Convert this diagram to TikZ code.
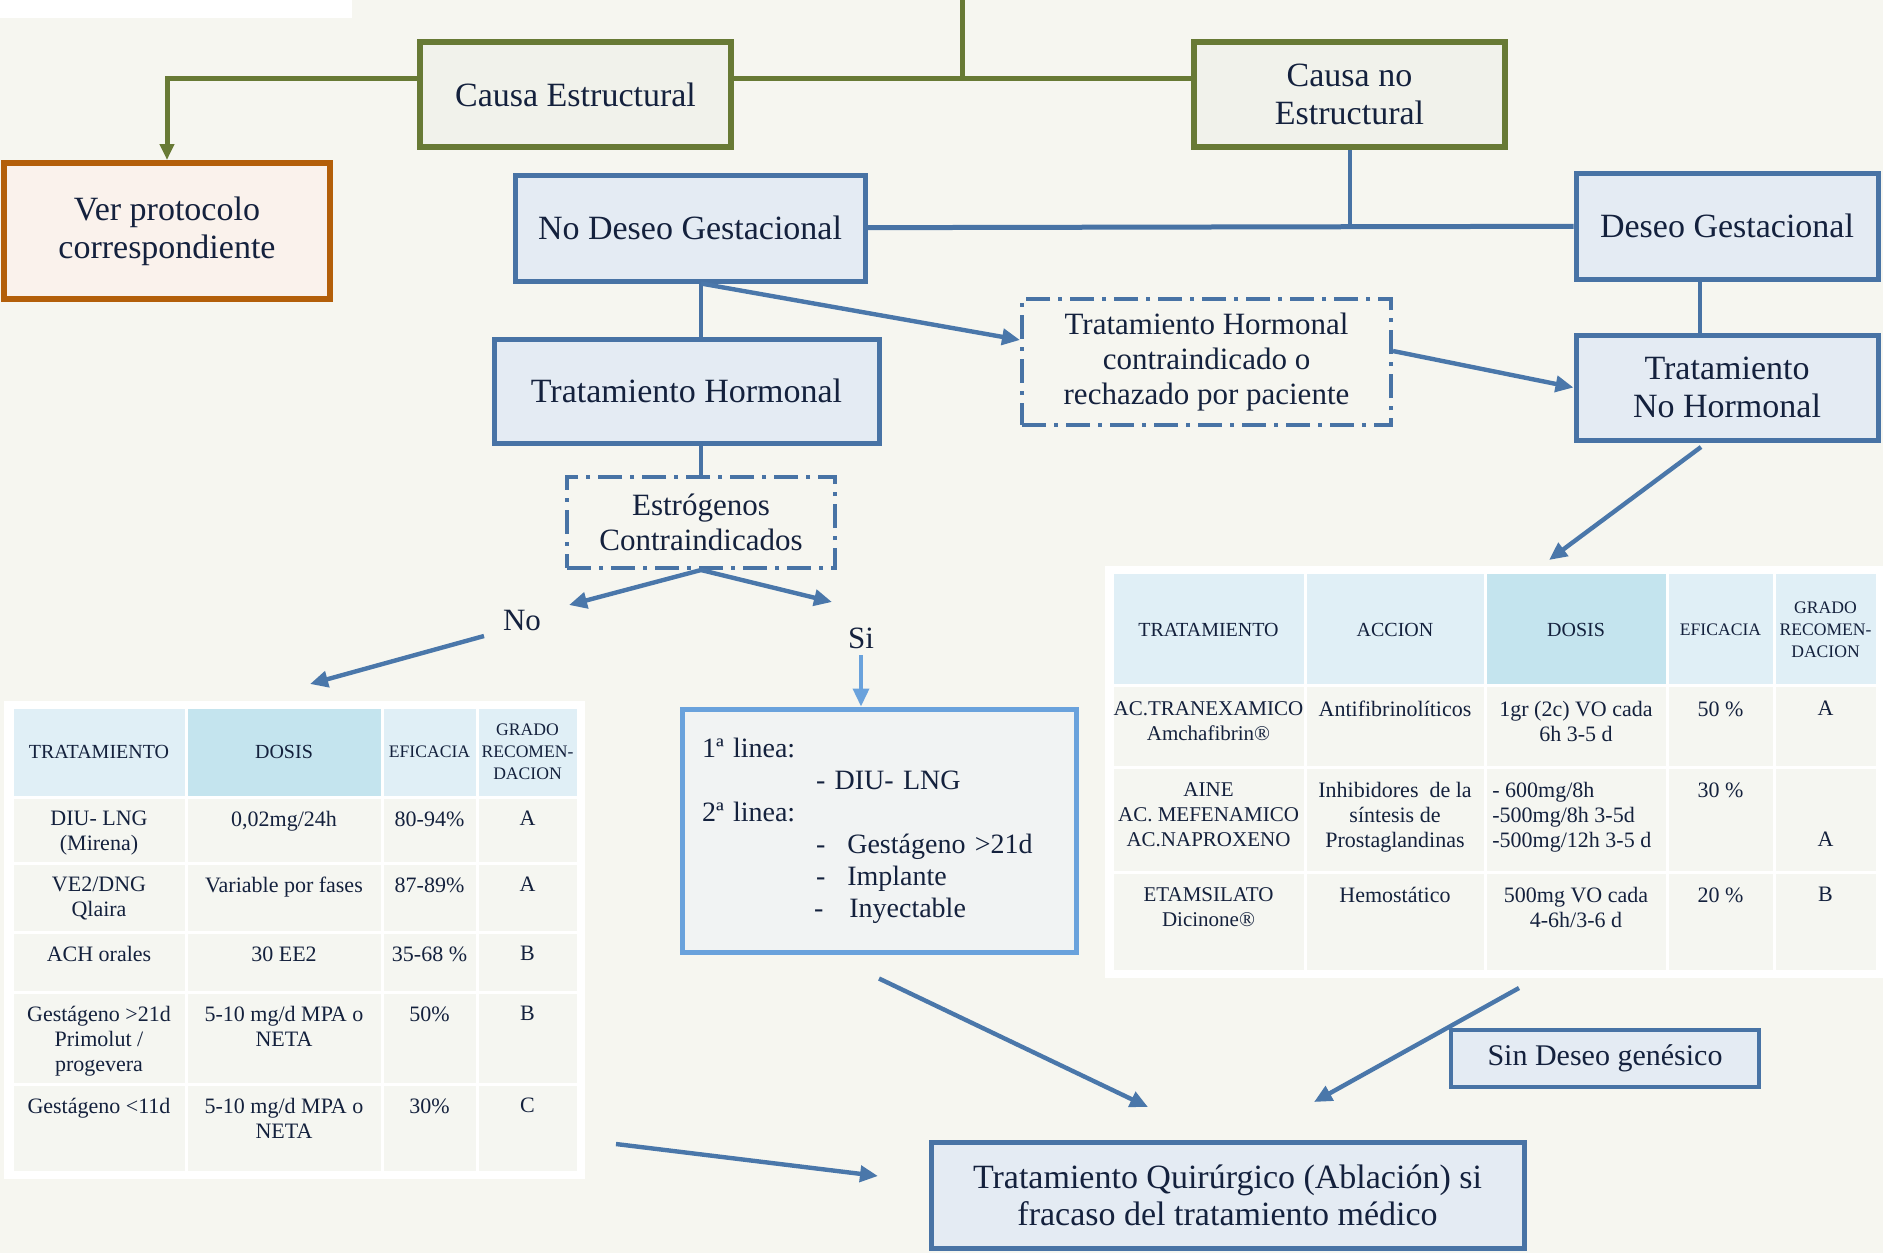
\documentclass[tikz,border=0pt]{standalone}
\usepackage{fontspec}
\setmainfont{Liberation Serif}
\usepackage{tikz}
\usetikzlibrary{arrows.meta, positioning, calc}
\definecolor{fcpage}{HTML}{F6F6F0}
\definecolor{fcblue}{HTML}{4873A5}
\definecolor{fcbluefill}{HTML}{E4EBF3}
\definecolor{fcgreen}{HTML}{687A35}
\definecolor{fcgreenfill}{HTML}{F1F2EB}
\definecolor{fcorange}{HTML}{B35F0A}
\definecolor{fcorangefill}{HTML}{FAF2EC}
\definecolor{fcsky}{HTML}{6AA2DC}
\definecolor{fcskyfill}{HTML}{F1F3F3}
\definecolor{fchead}{HTML}{E0EFF6}
\definecolor{fcheaddk}{HTML}{C4E4EE}
\definecolor{fccell}{HTML}{F5F6F1}
\definecolor{fctext}{HTML}{14213D}
\definecolor{fcarrow}{HTML}{4A77AA}

\begin{document}
\begin{tikzpicture}[x=0.5pt, y=-0.5pt, text=fctext,
      bigtxt/.style={font=\fontsize{17}{19}\selectfont},
      midtxt/.style={font=\fontsize{15.5}{17.5}\selectfont},
      box/.style={draw=fcblue, fill=fcbluefill, line width=2.5pt, align=center, bigtxt, inner sep=2pt},
      grbox/.style={box, draw=fcgreen, fill=fcgreenfill, line width=3pt},
      orbox/.style={box, draw=fcorange, fill=fcorangefill, line width=3pt},
      dashbox/.style={draw=fcblue, line width=2pt, dash pattern=on 12pt off 4pt on 2pt off 4pt,
                      align=center, midtxt},
      link/.style={draw=fcblue, line width=2pt},
      grlink/.style={draw=fcgreen, line width=2.5pt},
      arr/.style={draw=fcarrow, line width=2.2pt, -{Triangle[length=9pt,width=8pt]}},
      thead/.style={font=\fontsize{10}{11}\selectfont, align=center, inner sep=0pt},
      tnarrow/.style={thead, font=\fontsize{8.8}{11}\selectfont},
      tcell/.style={font=\fontsize{11}{12.5}\selectfont, align=center, inner sep=0pt, anchor=north}]
      \fill[fcpage] (0,0) rectangle (1883,1253);
      \useasboundingbox (0,0) rectangle (1883,1253);
      \fill[white] (0,0) rectangle (352,18);

      % first level
      \node[grbox, minimum width=155.5pt, minimum height=52.5pt] (causaE) at (575.5,94.5) {Causa Estructural};
      \node[grbox, minimum width=155.5pt, minimum height=52.5pt] (causaNE) at (1349.5,94.5) {Causa no\\Estructural};
      \node[orbox, minimum width=163pt, minimum height=68pt] (verProt) at (167,231) {Ver protocolo\\correspondiente};

      % second level
      \node[box, minimum width=175pt, minimum height=53pt] (noDeseo) at (690,228) {No Deseo Gestacional};
      \node[box, minimum width=151pt, minimum height=53pt] (deseo) at (1727,226) {Deseo Gestacional};
      \node[box, minimum width=192.5pt, minimum height=52pt] (trHorm) at (686.5,391) {Tratamiento Hormonal};
      \node[dashbox, minimum width=184.5pt, minimum height=63pt] (contra) at (1206.5,362)
            {Tratamiento Hormonal\\contraindicado o\\rechazado por paciente};
      \node[box, minimum width=151pt, minimum height=52.5pt] (noHorm) at (1727,387.5) {Tratamiento\\No Hormonal};
      \node[dashbox, minimum width=134pt, minimum height=45.5pt] (estrog) at (701,522.5) {Estrógenos\\Contraindicados};
      \node[midtxt] (noLbl) at (522,620) {No};
      \node[midtxt] (siLbl) at (861,638) {Si};

      % first / second line box
      \node[draw=fcsky, fill=fcskyfill, line width=2.5pt, font=\fontsize{14}{16}\selectfont,
            align=left, text width=177pt, inner xsep=10pt, minimum height=121.5pt] (lineas) at (879,830.5)
            {1ª linea:\\
             \hspace*{57pt}- DIU- LNG\\
             2ª linea:\\
             \hspace*{57pt}-\hspace*{11pt}Gestágeno >21d\\
             \hspace*{57pt}-\hspace*{11pt}Implante\\
             \hspace*{56pt}-\hspace*{13pt}Inyectable};

      \node[box, line width=1.8pt, font=\fontsize{15}{17}\selectfont, minimum width=154pt, minimum height=28.5pt] (sinDeseo) at (1605,1058.5) {Sin Deseo genésico};
      \node[box, minimum width=296.5pt, minimum height=53pt, font=\fontsize{17}{18.5}\selectfont] (quirur) at (1227.5,1195)
            {Tratamiento Quirúrgico (Ablación) si\\fracaso del tratamiento médico};

      % left table
      \fill[white] (4,701) rectangle (585,1179);
      \foreach \xa/\xb in {12/186,186/382,382/477,477/578} {
        \fill[fchead] (\xa+1.5,709) rectangle (\xb-1.5,795.5);
        \foreach \ya/\yb in {797/863,863/932,932/992,992/1084,1084/1172}
          \fill[fccell] (\xa+1.5,\ya+1.5) rectangle (\xb-1.5,\yb-1.5);
      }
      \fill[fcheaddk] (187.5,709) rectangle (380.5,795.5);
      \node[thead] (lh1) at (99,752) {TRATAMIENTO};
      \node[thead] (lh2) at (284,752) {DOSIS};
      \node[tnarrow] (lh3) at (429.5,752) {EFICACIA};
      \node[tnarrow] (lh4) at (527.5,752) {GRADO\\RECOMEN-\\DACION};
      \node[tcell] (l11) at (99,811) {DIU- LNG\\(Mirena)};
      \node[tcell] (l12) at (284,811) {0,02mg/24h};
      \node[tcell] (l13) at (429.5,811) {80-94\%};
      \node[tcell] (l14) at (527.5,811) {A};
      \node[tcell] (l21) at (99,877) {VE2/DNG\\Qlaira};
      \node[tcell] (l22) at (284,877) {Variable por fases};
      \node[tcell] (l23) at (429.5,877) {87-89\%};
      \node[tcell] (l24) at (527.5,877) {A};
      \node[tcell] (l31) at (99,946) {ACH orales};
      \node[tcell] (l32) at (284,946) {30 EE2};
      \node[tcell] (l33) at (429.5,946) {35-68 \%};
      \node[tcell] (l34) at (527.5,946) {B};
      \node[tcell] (l41) at (99,1006) {Gestágeno >21d\\Primolut /\\progevera};
      \node[tcell] (l42) at (284,1006) {5-10 mg/d MPA o\\NETA};
      \node[tcell] (l43) at (429.5,1006) {50\%};
      \node[tcell] (l44) at (527.5,1006) {B};
      \node[tcell] (l51) at (99,1098) {Gestágeno <11d};
      \node[tcell] (l52) at (284,1098) {5-10 mg/d MPA o\\NETA};
      \node[tcell] (l53) at (429.5,1098) {30\%};
      \node[tcell] (l54) at (527.5,1098) {C};

      % right table
      \fill[white] (1105,566) rectangle (1883,978);
      \foreach \xa/\xb in {1112/1305,1305/1485,1485/1667,1667/1774,1774/1877} {
        \fill[fchead] (\xa+1.5,574) rectangle (\xb-1.5,683.5);
        \foreach \ya/\yb in {685/767,767/872,872/971}
          \fill[fccell] (\xa+1.5,\ya+1.5) rectangle (\xb-1.5,\yb-1.5);
      }
      \fill[fcheaddk] (1486.5,574) rectangle (1665.5,683.5);
      \node[thead] (rh1) at (1208.5,629.5) {TRATAMIENTO};
      \node[thead] (rh2) at (1395,629.5) {ACCION};
      \node[thead] (rh3) at (1576,629.5) {DOSIS};
      \node[tnarrow] (rh4) at (1720.5,629.5) {EFICACIA};
      \node[tnarrow] (rh5) at (1825.5,629.5) {GRADO\\RECOMEN-\\DACION};
      \node[tcell, font=\fontsize{10.5}{12.5}\selectfont] (r11) at (1208.5,701) {AC.TRANEXAMICO\\Amchafibrin®};
      \node[tcell] (r12) at (1395,701) {Antifibrinolíticos};
      \node[tcell] (r13) at (1576,701) {1gr (2c) VO cada\\6h 3-5 d};
      \node[tcell] (r14) at (1720.5,701) {50 \%};
      \node[tcell] (r15) at (1825.5,701) {A};
      \node[tcell, font=\fontsize{10.5}{12.5}\selectfont] (r21) at (1208.5,782) {AINE\\AC. MEFENAMICO\\AC.NAPROXENO};
      \node[tcell] (r22) at (1395,782) {Inhibidores\ \ de la\\síntesis de\\Prostaglandinas};
      \node[tcell, anchor=north west, align=left] (r23) at (1492,782)
            {- 600mg/8h\\-500mg/8h 3-5d\\-500mg/12h 3-5 d};
      \node[tcell] (r24) at (1720.5,782) {30 \%};
      \node[tcell] (r25) at (1825.5,832) {A};
      \node[tcell, font=\fontsize{10.5}{12.5}\selectfont] (r31) at (1208.5,887) {ETAMSILATO\\Dicinone®};
      \node[tcell] (r32) at (1395,887) {Hemostático};
      \node[tcell] (r33) at (1576,887) {500mg VO cada\\4-6h/3-6 d};
      \node[tcell] (r34) at (1720.5,887) {20 \%};
      \node[tcell] (r35) at (1825.5,887) {B};

      % free arrow ends
      \coordinate (top) at (962,0);
      \coordinate (jtop) at (962,78);
      \coordinate (noTip) at (569,605);
      \coordinate (siTip) at (832,602);
      \coordinate (noFrom) at (484,636);
      \coordinate (noTo) at (310,684);
      \coordinate (nhFrom) at (1701,447);
      \coordinate (nhTo) at (1549,560);
      \coordinate (linFrom) at ([yshift=-12pt]lineas.south);
      \coordinate (linTo) at (1148,1107);
      \coordinate (rtFrom) at (1519,988);
      \coordinate (rtTo) at (1314,1102);
      \coordinate (ltFrom) at (616,1144);
      \coordinate (ltTo) at (878,1176);

      % connectors
      \draw[grlink] (top) -- (jtop);
      \draw[grlink] (causaE.east |- jtop) -- (causaNE.west |- jtop);
      \draw[grlink, -{Triangle[length=8pt,width=7pt]}] (causaE.west |- jtop) -| (verProt.north);
      \draw[link] (causaNE) -- (causaNE |- noDeseo.east);
      \draw[link, line width=2.5pt] (noDeseo) -- (deseo);
      \draw[link, line width=1.8pt] (noDeseo.south -| estrog) -- (trHorm.north -| estrog);
      \draw[arr] (noDeseo.south -| estrog) -- ([yshift=11pt]contra.west);
      \draw[arr] ([yshift=5.5pt]contra.east) -- (noHorm.west);
      \draw[link, line width=1.8pt] ([xshift=-13.5pt]deseo.south) -- ([xshift=-13.5pt]noHorm.north);
      \draw[link, line width=1.8pt] (trHorm.south -| estrog) -- (estrog.north);
      \draw[arr] (estrog.south) -- (noTip);
      \draw[arr] (estrog.south) -- (siTip);
      \draw[arr] (noFrom) -- (noTo);
      \draw[arr, draw=fcsky, line width=1.8pt] (siLbl.south) -- (siLbl.south |- lineas.north);
      \draw[arr] (nhFrom) -- (nhTo);
      \draw[arr] (linFrom) -- (linTo);
      \draw[arr] (rtFrom) -- (rtTo);
      \draw[arr] (ltFrom) -- (ltTo);
\end{tikzpicture}
\end{document}
